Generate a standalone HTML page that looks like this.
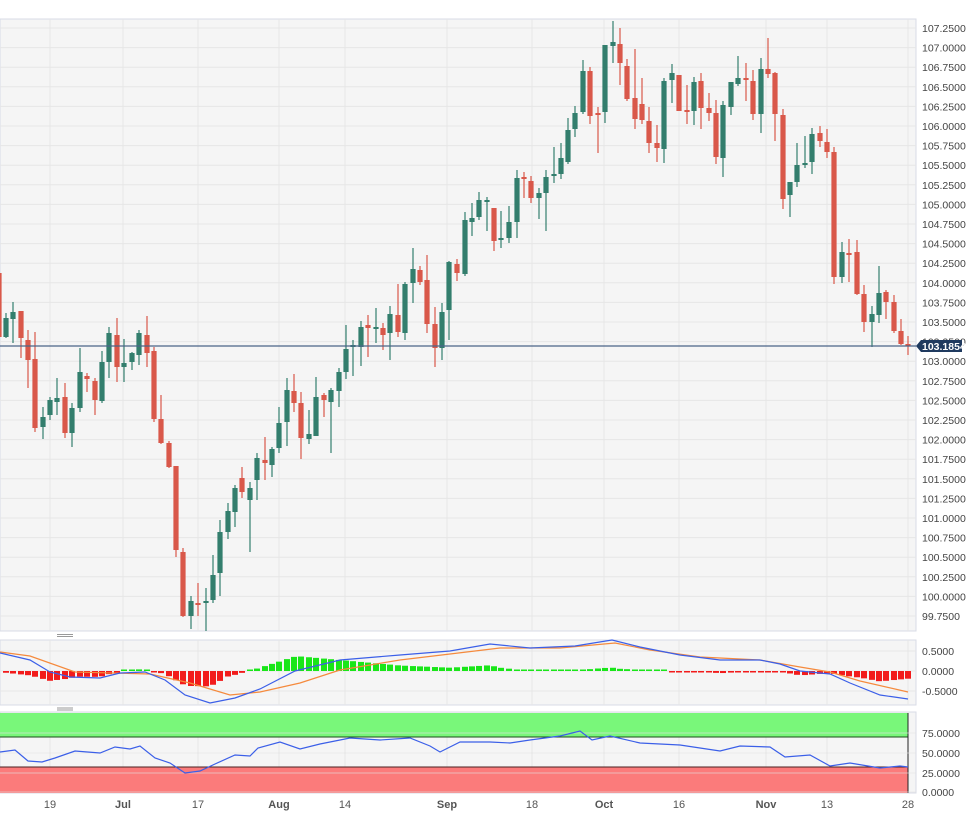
<!DOCTYPE html>
<html><head><meta charset="utf-8"><style>
html,body{margin:0;padding:0;background:#fff;}
svg{display:block;font-family:"Liberation Sans",sans-serif;}
</style></head><body>
<svg id="s" width="978" height="821" xmlns="http://www.w3.org/2000/svg"></svg>
<script>
const s=document.getElementById('s');let h='';
const G='#337e6d',R='#d9584a';
// panels
h+='<rect x="0" y="19" width="916" height="612" fill="#f5f5f5" stroke="#d8dbe6"/>';
h+='<rect x="0" y="640" width="916" height="65" fill="#f5f5f5" stroke="#d8dbe6"/>';
h+='<rect x="0" y="712" width="916" height="81" fill="#f5f5f5" stroke="#d8dbe6"/>';
// grids main
const Y=p=>28+(107.25-p)*78.4;
for(let p=107.25;p>=99.74;p-=0.25){const y=Y(p);h+=`<line x1="0" x2="916" y1="${y}" y2="${y}" stroke="#e6e6e6"/>`;
h+=`<text x="922" y="${y+4}" font-size="10.5" fill="#444">${p.toFixed(4)}</text>`;}
const xs=[[50,'19'],[123,'Jul'],[198,'17'],[279,'Aug'],[345,'14'],[447,'Sep'],[532,'18'],[604,'Oct'],[679,'16'],[766,'Nov'],[827,'13'],[908,'28']];
xs.forEach(([x,t])=>{h+=`<line x1="${x}" x2="${x}" y1="19" y2="631" stroke="#e6e6e6"/><line x1="${x}" x2="${x}" y1="640" y2="705" stroke="#e6e6e6"/><line x1="${x}" x2="${x}" y1="712" y2="793" stroke="#e6e6e6"/>`;
const b=/[A-Za-z]/.test(t);h+=`<text x="${x}" y="808" font-size="11" fill="#555" text-anchor="middle" ${b?'font-weight="bold"':''}>${t}</text>`;});
// candles x,o,c,hi,lo
const C=[[-1,273,337,270,340],[6,337,318,313,338],[13,319,312,302,343],[21,311,338,311,358],[28,340,360,330,388],[35,359,428,332,432],[43,427,417,407,439],[50,415,400,397,420],[57,402,398,378,415],[65,397,433,383,438],[72,433,408,403,447],[80,408,372,348,412],[87,376,379,373,392],[95,381,400,378,415],[102,401,362,351,403],[109,362,333,327,378],[117,335,367,318,382],[124,367,363,339,382],[132,362,353,352,370],[139,355,333,330,365],[147,335,353,316,367],[154,351,419,347,422],[161,419,443,395,444],[169,443,467,441,468],[176,466,550,466,557],[183,552,616,548,617],[191,616,601,596,629],[198,603,604,583,616],[206,603,601,588,631],[213,600,575,555,603],[220,573,532,520,596],[228,532,511,503,539],[235,512,488,485,527],[242,478,492,467,498],[250,500,488,482,552],[257,480,458,453,500],[265,460,463,437,480],[272,465,449,447,477],[279,448,423,407,453],[287,422,390,378,446],[294,391,403,374,412],[301,403,438,392,459],[309,439,434,410,444],[316,436,397,377,436],[324,395,400,393,417],[331,402,390,388,453],[339,391,372,368,407],[346,372,349,325,379],[353,347,345,340,376],[361,347,327,321,366],[368,325,328,315,357],[376,329,327,308,343],[383,328,335,323,350],[390,333,314,306,360],[398,315,332,284,337],[405,333,284,282,340],[413,283,269,248,303],[420,270,282,266,285],[427,280,324,255,333],[435,324,348,307,367],[442,348,312,303,360],[449,310,262,261,340],[457,264,273,259,281],[465,274,220,212,276],[472,222,218,203,236],[479,217,200,192,220],[487,202,200,197,231],[494,208,241,208,251],[501,240,238,211,248],[509,238,222,206,243],[517,222,178,170,238],[524,177,178,172,198],[531,181,198,176,203],[539,198,193,188,219],[546,193,177,170,231],[554,176,174,147,183],[561,174,158,143,179],[568,162,130,118,164],[575,129,113,106,137],[583,112,71,60,114],[590,71,116,67,124],[598,113,114,107,153],[605,112,45,45,123],[613,46,42,21,63],[620,44,63,28,85],[627,66,99,59,101],[635,98,119,49,129],[642,104,120,78,124],[649,121,143,107,153],[657,143,148,125,162],[664,149,81,78,163],[672,80,73,64,103],[679,75,111,75,111],[687,110,111,85,124],[694,111,82,77,125],[701,81,108,73,129],[709,108,113,93,121],[716,113,157,100,164],[723,158,105,101,177],[731,107,82,82,115],[738,84,78,56,86],[746,78,79,63,101],[753,81,114,70,120],[761,114,69,58,133],[768,69,74,38,78],[775,73,114,72,141],[783,115,199,109,209],[790,195,182,182,217],[797,182,165,143,187],[805,165,163,136,168],[812,162,134,128,174],[820,133,141,126,147],[827,142,152,129,158],[834,152,277,147,284],[842,277,252,242,283],[849,253,254,239,282],[857,252,294,240,295],[864,294,322,285,332],[872,322,314,306,347],[879,315,293,266,323],[886,292,302,290,319],[894,302,331,295,333],[901,331,344,319,345],[908,344,346,336,355]];
C.forEach(([x,o,c,hi,lo])=>{const col=c<o?G:R;const t=Math.min(o,c),b=Math.max(o,c,t+2);
h+=`<line x1="${x}" x2="${x}" y1="${hi}" y2="${lo}" stroke="${col}" stroke-width="1.2"/><rect x="${x-2.6}" y="${t}" width="5.2" height="${b-t}" fill="${col}"/>`;});
// price line + label
h+='<line x1="0" x2="916" y1="346" y2="346" stroke="#4a6488" stroke-width="1.2"/>';
h+='<path d="M916 346 L921 340 H962 V352 H921 Z" fill="#1f3a5f"/><text x="922" y="350" font-size="10.5" font-weight="bold" fill="#fff">103.1854</text>';
h+='<rect x="0" y="632" width="978" height="7" fill="#fff"/><rect x="0" y="706" width="978" height="5" fill="#fff"/>';
h+='<path d="M57 634.5H73M57 636.5H73M57 708H73M57 710H73" stroke="#999"/>';
// MACD
[[0.5,651],[0,671],[-0.5,691]].forEach(([v,y])=>{h+=`<line x1="0" x2="916" y1="${y}" y2="${y}" stroke="#e6e6e6"/><text x="922" y="${y+4}" font-size="10.5" fill="#444">${v<0?'':' '}${v.toFixed(4)}</text>`;});
const blue=[[0,653],[30,660],[50,672],[70,677],[100,678],[120,673],[145,672],[165,680],[185,695],[210,703],[235,698],[260,689],[295,671],[340,660],[400,655],[450,651],[490,644],[530,648],[575,646],[612,640],[640,647],[680,655],[720,660],[760,660],[780,664],[800,671],[830,674],[850,683],[880,695],[908,699]];
const orng=[[0,652],[30,656],[75,672],[150,674],[190,683],[230,695],[260,692],[300,683],[340,670],[400,660],[450,654],[500,648],[560,648],[615,643],[650,650],[700,657],[760,660],[800,667],[830,672],[860,681],[908,692]];
const interp=(a,x)=>{for(let i=1;i<a.length;i++)if(x<=a[i][0]){const [x0,y0]=a[i-1],[x1,y1]=a[i];return y0+(y1-y0)*(x-x0)/(x1-x0);}return a[a.length-1][1];};
C.forEach(([x])=>{if(x<0)return;let d=interp(orng,x)-interp(blue,x);let hh=Math.max(Math.abs(d)*1.1,1.5);
h+=`<rect x="${x-3}" y="${d>0?671-hh:671}" width="6" height="${hh}" fill="${d>0?'#19e619':'#f21b1b'}"/>`;});
const pl=a=>a.map(p=>p.join(',')).join(' ');
h+=`<polyline points="${pl(orng)}" fill="none" stroke="#f58a3d" stroke-width="1.2"/><polyline points="${pl(blue)}" fill="none" stroke="#3b5fe8" stroke-width="1.2"/>`;
// RSI
h+='<rect x="0" y="713" width="908" height="24" fill="#79f77a"/><line x1="0" x2="908" y1="737" y2="737" stroke="#1a4a1a"/>';
h+='<rect x="0" y="767" width="908" height="26" fill="#fb7b7b"/><line x1="0" x2="908" y1="767" y2="767" stroke="#4a2020"/><line x1="908" x2="908" y1="713" y2="793" stroke="#222"/>';
[[75,733],[50,753],[25,773],[0,792]].forEach(([v,y])=>{h+=`<line x1="0" x2="916" y1="${y}" y2="${y}" stroke="#e3e3e3" opacity=".6"/><text x="922" y="${y+4}" font-size="10.5" fill="#444">${v.toFixed(4)}</text>`;});
const rsi=[[0,752],[15,750],[28,761],[42,762],[55,758],[75,751],[100,753],[115,747],[130,749],[140,746],[155,758],[170,763],[185,773],[200,771],[215,764],[235,755],[250,756],[258,748],[280,742],[300,749],[320,744],[350,738],[380,740],[410,738],[430,746],[440,752],[460,742],[490,742],[510,743],[530,740],[560,736],[580,731],[592,740],[610,736],[640,743],[680,745],[700,748],[720,751],[740,746],[770,747],[785,757],[810,755],[830,766],[850,763],[880,768],[900,766],[908,767]];
h+=`<polyline points="${pl(rsi)}" fill="none" stroke="#3b5fe8" stroke-width="1.2"/>`;
s.innerHTML=h;
</script>
</body></html>
